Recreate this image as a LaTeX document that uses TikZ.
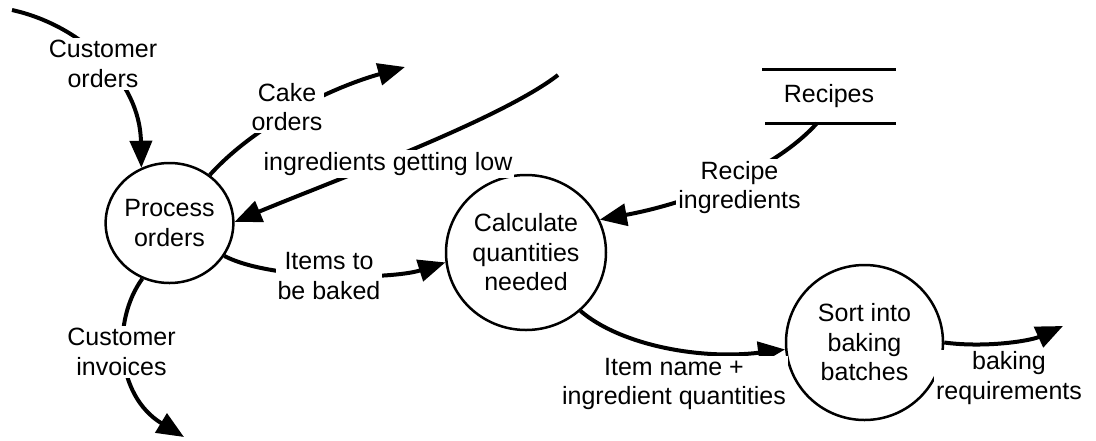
\documentclass[tikz,border=0pt]{standalone}
\usepackage{fontspec}
\setmainfont{Liberation Sans}
\usetikzlibrary{arrows.meta,shapes.geometric}
\begin{document}
\begin{tikzpicture}[x=1pt,y=-1pt,
  proc/.style={ellipse,draw,line width=2.5pt,inner sep=0pt,align=center,font=\fontsize{25}{29.5}\selectfont},
  flow/.style={line width=4pt,-{Triangle[length=27pt,width=22pt]}},
  storeline/.style={line width=3pt},
  lbl/.style={fill=white,inner sep=2pt,align=center,font=\fontsize{25}{29.5}\selectfont}]
\useasboundingbox[fill=white] (0,0) rectangle (1096,440);

% processes
\node[proc,minimum width=125pt,minimum height=120pt] (pro) at (169.5,223) {Process\\orders};
\node[proc,minimum width=160pt,minimum height=155pt] (calc) at (526,252.5) {Calculate\\quantities\\needed};
\node[proc,minimum width=157pt,minimum height=155pt] (sort) at (864.5,342.5) {Sort into\\baking\\batches};

% data store
\node[minimum width=133pt,minimum height=53pt,inner sep=0pt,font=\fontsize{25}{29.5}\selectfont] (rec) at (829,96.5) {Recipes};
\draw[storeline] (rec.north west) -- (rec.north east);
\draw[storeline] ([xshift=3pt]rec.south west) -- (rec.south east);

% free ends
\coordinate (c1) at (12,10);
\coordinate (c2) at (405,67);
\coordinate (c3) at (558,75);
\coordinate (c5) at (184,437);
\coordinate (c8) at (1063,326);

% flows
\draw[flow] (c1) .. controls (80,25) and (140,80) .. (pro.117);
\draw[flow] (pro.50) .. controls (255,125) and (330,88) .. (c2);
\draw[flow] (c3) .. controls (500,120) and (330,182) .. (pro.1);
\draw[flow] (pro.-31) .. controls (270,280) and (390,280) .. (calc.187);
\draw[flow] (pro.-116) .. controls (112,320) and (115,395) .. (c5);
\draw[flow] ([xshift=-12pt]rec.south) .. controls (770,175) and (680,205) .. (calc.24);
\draw[flow] (calc.-47) .. controls (620,345) and (700,360) .. (sort.185);
\draw[flow] (sort.0) .. controls (985,348) and (1030,341) .. (c8);

% labels
\node[lbl] (lco) at (103,64) {Customer\\orders};
\node[lbl] (lcake) at (287,107) {Cake\\orders};
\node[lbl] (llow) at (388,164) {ingredients getting low};
\node[lbl] (litems) at (329,276) {Items to\\be baked};
\node[lbl] (linv) at (121.5,352) {Customer\\invoices};
\node[lbl] (lrec) at (739.5,187.5) {Recipe\\ingredients};
\node[lbl] (litem) at (674,384) {Item name +\\ingredient quantities};
\node[lbl] (lbake) at (1009,378) {baking\\requirements};
\end{tikzpicture}
\end{document}
